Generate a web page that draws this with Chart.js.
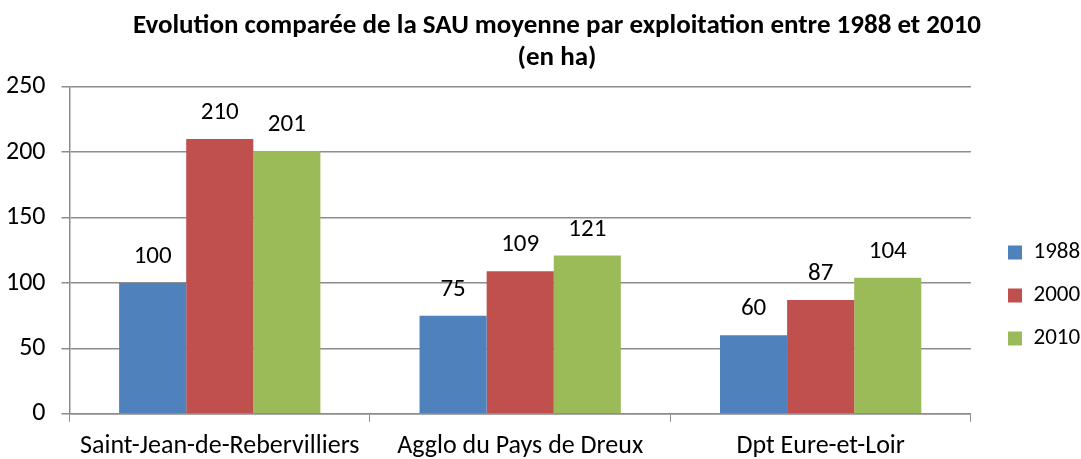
<!DOCTYPE html>
<html>
<head>
<meta charset="utf-8">
<script src="https://cdn.jsdelivr.net/npm/chart.js@4"></script>
<style>
  html, body { margin: 0; padding: 0; background: #fff; }
  #wrap { width: 1081px; height: 459px; }
</style>
</head>
<body>
<div id="wrap"><canvas id="sauChart"></canvas></div>
<script>
var categories = ["Saint-Jean-de-Rebervilliers", "Agglo du Pays de Dreux", "Dpt Eure-et-Loir"];
var years = ["1988", "2000", "2010"];
var sau1988 = [100, 75, 60];
var sau2000 = [210, 109, 87];
var sau2010 = [201, 121, 104];
var colors = ['#4f81bd', '#c0504d', '#9bbb59'];

var fontFamily = "Calibri, Carlito, 'Open Sans', sans-serif";

// value labels above each bar
var valueLabels = {
    id: 'valueLabels',
    afterDatasetsDraw: function(chart) {
        var ctx = chart.ctx;
        ctx.save();
        ctx.font = "25px " + fontFamily;
        ctx.fillStyle = '#000';
        ctx.textAlign = 'center';
        ctx.textBaseline = 'alphabetic';
        chart.data.datasets.forEach(function(ds, i) {
            chart.getDatasetMeta(i).data.forEach(function(bar, j) {
                ctx.fillText(ds.data[j], bar.x, bar.y - 20);
            });
        });
        ctx.restore();
    }
};

// nudge title and legend to where the original places them
var placeBoxes = {
    id: 'placeBoxes',
    afterLayout: function(chart) {
        var t = chart.titleBlock;
        var dx = 557 - (t.left + t.right) / 2;
        t.left += dx;
        t.right += dx;
        var lg = chart.legend;
        var w = lg.right - lg.left;
        lg.left = 1008 - lg.options.labels.padding;
        lg.right = lg.left + w;
        lg.top += 55;
        lg.bottom += 55;
    }
};

var ctx = document.getElementById('sauChart').getContext('2d');
var chart = new Chart(ctx, {
    type: 'bar',
    data: {
        labels: categories,
        datasets: [
            { label: years[0], data: sau1988, backgroundColor: colors[0] },
            { label: years[1], data: sau2000, backgroundColor: colors[1] },
            { label: years[2], data: sau2010, backgroundColor: colors[2] }
        ]
    },
    options: {
        responsive: true,
        maintainAspectRatio: false,
        animation: false,
        layout: { padding: { left: -10, right: 8, top: 10, bottom: -12 } },
        datasets: {
            bar: { categoryPercentage: 0.67, barPercentage: 1.0 }
        },
        plugins: {
            title: {
                display: true,
                text: ["Evolution comparée de la SAU moyenne par exploitation entre 1988 et 2010", "(en ha)"],
                color: '#000',
                font: { family: fontFamily, size: 27, weight: 'bold', lineHeight: 1.2 },
                padding: { top: 0, bottom: 12 }
            },
            legend: {
                display: true,
                position: 'right',
                labels: {
                    color: '#000',
                    boxWidth: 14,
                    boxHeight: 14,
                    padding: 20,
                    font: { family: fontFamily, size: 23 }
                }
            },
            tooltip: { enabled: false }
        },
        scales: {
            x: {
                grid: {
                    offset: true,
                    drawOnChartArea: false,
                    drawTicks: true,
                    tickLength: 8,
                    color: '#8c8c8c'
                },
                border: { color: '#8c8c8c', width: 1.5 },
                ticks: {
                    color: '#000',
                    font: { family: fontFamily, size: 26 },
                    padding: 9
                }
            },
            y: {
                min: 0,
                max: 250,
                ticks: {
                    stepSize: 50,
                    color: '#000',
                    font: { family: fontFamily, size: 26 },
                    padding: 16
                },
                grid: {
                    color: '#8c8c8c',
                    lineWidth: 1.5,
                    tickLength: 8
                },
                border: { color: '#8c8c8c', width: 1.5 }
            }
        }
    },
    plugins: [valueLabels, placeBoxes]
});
</script>
</body>
</html>
